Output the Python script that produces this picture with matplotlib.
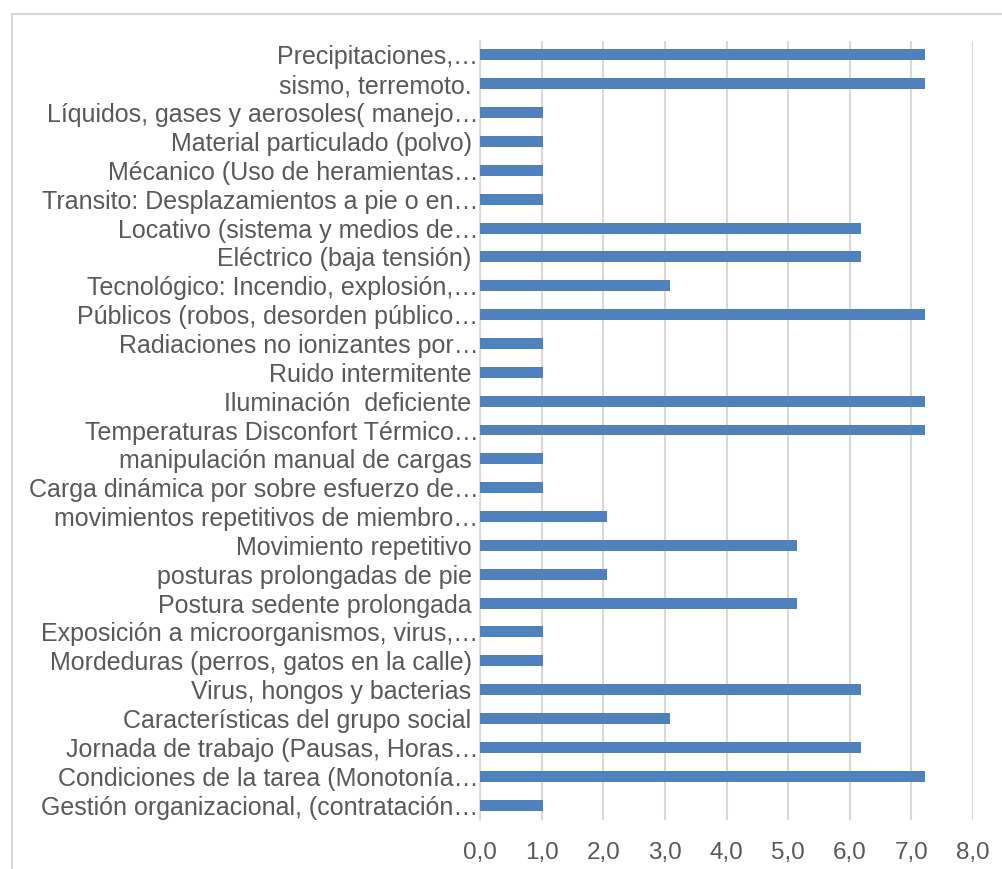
import matplotlib
matplotlib.use("Agg")
import matplotlib.pyplot as plt
from matplotlib.patches import Rectangle

categories = [
    "Precipitaciones,…",
    "sismo, terremoto. ",
    "Líquidos, gases y aerosoles( manejo…",
    "Material particulado (polvo) ",
    "Mécanico (Uso de heramientas…",
    "Transito: Desplazamientos a pie o en…",
    "Locativo (sistema y medios de…",
    "Eléctrico (baja tensión) ",
    "Tecnológico: Incendio, explosión,…",
    "Públicos (robos, desorden público…",
    "Radiaciones no ionizantes por…",
    "Ruido intermitente ",
    "Iluminación  deficiente ",
    "Temperaturas Disconfort Térmico…",
    "manipulación manual de cargas ",
    "Carga dinámica por sobre esfuerzo de…",
    "movimientos repetitivos de miembro…",
    "Movimiento repetitivo ",
    "posturas prolongadas de pie ",
    "Postura sedente prolongada ",
    "Exposición a microorganismos, virus,…",
    "Mordeduras (perros, gatos en la calle) ",
    "Virus, hongos y bacterias ",
    "Características del grupo social ",
    "Jornada de trabajo (Pausas, Horas…",
    "Condiciones de la tarea (Monotonía…",
    "Gestión organizacional, (contratación…",
]
values = [7.22, 7.22, 1.03, 1.03, 1.03, 1.03, 6.19, 6.19, 3.09, 7.22,
          1.03, 1.03, 7.22, 7.22, 1.03, 1.03, 2.06, 5.15, 2.06, 5.15,
          1.03, 1.03, 6.19, 3.09, 6.19, 7.22, 1.03]
xticks = [0, 1, 2, 3, 4, 5, 6, 7, 8]
xticklabels = ["0,0", "1,0", "2,0", "3,0", "4,0", "5,0", "6,0", "7,0", "8,0"]

plt.rcParams['font.family'] = ['Liberation Sans', 'DejaVu Sans']
txt = '#595959'

fig = plt.figure(figsize=(10.03, 8.69), dpi=100)
fig.patches.append(Rectangle((12/1003, -0.05), 1.1, (869-14)/869 + 0.05,
                             transform=fig.transFigure, fill=False,
                             edgecolor='#d9d9d9', linewidth=1.5))
ax = fig.add_axes([480/1003, 1 - 819.5/869, (973-480)/1003, (819.5-40.5)/869])

n = len(categories)
ypos = list(range(n))
ax.barh(ypos, values, height=0.38, color='#4f81bd', zorder=3)
ax.set_ylim(n - 0.5, -0.5)
ax.set_xlim(0, 8)
ax.set_yticks(ypos)
ax.set_yticklabels(categories, fontsize=18, color=txt)
ax.set_xticks(xticks)
ax.set_xticklabels(xticklabels, fontsize=17.5, color=txt)
ax.tick_params(axis='both', length=0)
ax.tick_params(axis='y', pad=1)
ax.tick_params(axis='x', pad=16)
ax.grid(axis='x', color='#d9d9d9', linewidth=1.5, zorder=0)
for s in ['top', 'right', 'bottom']:
    ax.spines[s].set_visible(False)
ax.spines['left'].set_color('#d9d9d9')
ax.spines['left'].set_linewidth(1.2)

fig.savefig('out.png', dpi=100, facecolor='white')
